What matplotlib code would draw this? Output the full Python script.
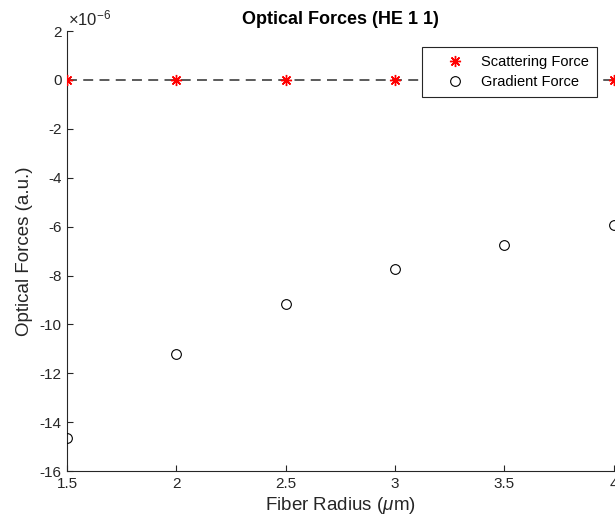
import matplotlib
matplotlib.use("Agg")
import matplotlib.pyplot as plt
from matplotlib.ticker import FuncFormatter

plt.rcParams['font.family'] = ['Liberation Sans', 'DejaVu Sans']
plt.rcParams['axes.unicode_minus'] = False
plt.rcParams['mathtext.fontset'] = 'custom'
plt.rcParams['mathtext.rm'] = 'Liberation Sans'
plt.rcParams['mathtext.it'] = 'Liberation Sans:italic'

# fibre radius in um
radius = [1.5, 2.0, 2.5, 3.0, 3.5, 4.0]
# forces in units of 1e-6
scattering = [0.0, 0.0, 0.0, 0.0, 0.0, 0.0]
gradient = [-14.65, -11.2, -9.15, -7.75, -6.75, -5.95]
scale = 1e-6

fig = plt.figure(figsize=(6.15, 5.29), dpi=100)
ax = fig.add_axes([0.109, 0.1096, 0.889, 0.8316])

ax.plot([radius[0], radius[-1]], [0, 0], color='0.3', linestyle=(0, (5.5, 3.5)),
        linewidth=1.3, zorder=2)
ax.plot(radius, [s * scale for s in scattering], linestyle='none', marker=(8, 2, 0),
        color='red', markersize=8, markeredgewidth=1.0, label='Scattering Force',
        zorder=3)
ax.plot(radius, [g * scale for g in gradient], linestyle='none', marker='o',
        markerfacecolor='none', markeredgecolor='black', markersize=7,
        markeredgewidth=0.8, label='Gradient Force', zorder=3)

ax.set_xlim(1.5, 4)
ax.set_ylim(-16e-6, 2e-6)
ax.set_xticks([1.5, 2, 2.5, 3, 3.5, 4])
ax.set_xticklabels(['1.5', '2', '2.5', '3', '3.5', '4'])
ax.set_yticks([v * scale for v in range(-16, 3, 2)])
ax.yaxis.set_major_formatter(FuncFormatter(lambda v, p: '%g' % round(v / scale)))
ax.text(0.002, 1.006, r'$\times 10^{-6}$', transform=ax.transAxes, fontsize=12,
        color='0.15', ha='left', va='bottom')

for side in ['top', 'right']:
    ax.spines[side].set_visible(False)
for side in ['left', 'bottom']:
    ax.spines[side].set_linewidth(0.8)
    ax.spines[side].set_color('0.15')
ax.tick_params(direction='in', length=4, width=0.8, labelsize=11,
               colors='0.15', pad=4)

ax.set_xlabel(r'Fiber Radius ($\mu$m)', fontsize=13.5, color='0.15', labelpad=3)
ax.set_ylabel('Optical Forces (a.u.)', fontsize=13.5, color='0.15', labelpad=5)
ax.set_title('Optical Forces (HE 1 1)', fontsize=13, fontweight='bold', pad=5)

leg = ax.legend(loc='upper right', bbox_to_anchor=(0.969, 0.964), fontsize=10.5,
                fancybox=False, framealpha=1, edgecolor='0.15',
                borderaxespad=0, borderpad=0.55, handlelength=3.4,
                handletextpad=0.1, labelspacing=0.4)
leg.get_frame().set_linewidth(0.8)

fig.savefig('out.png', dpi=100)
